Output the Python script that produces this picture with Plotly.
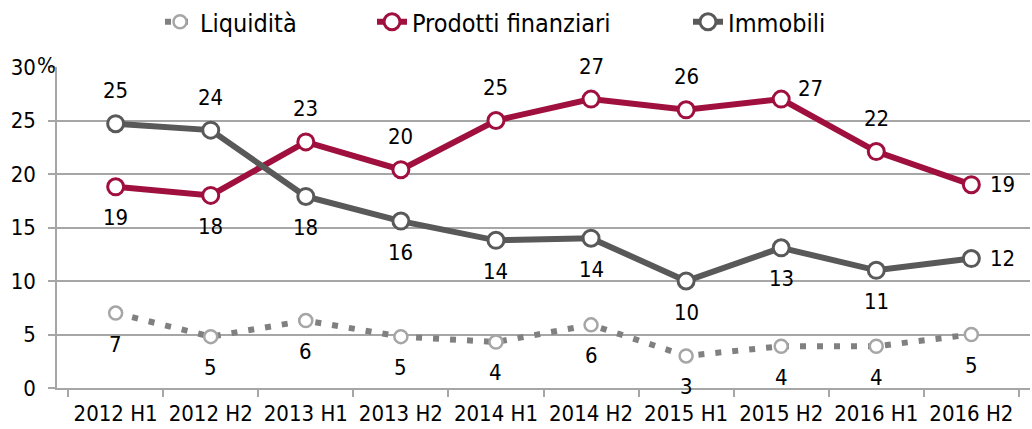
import plotly.graph_objects as go

categories = ["2012 H1", "2012 H2", "2013 H1", "2013 H2", "2014 H1",
              "2014 H2", "2015 H1", "2015 H2", "2016 H1", "2016 H2"]
liquidita = [7.0, 4.8, 6.3, 4.8, 4.3, 5.9, 3.0, 3.9, 3.9, 5.0]
prodotti = [18.8, 18.0, 23.0, 20.4, 25.0, 27.0, 26.0, 27.0, 22.1, 19.0]
immobili = [24.7, 24.1, 17.9, 15.6, 13.8, 14.0, 10.0, 13.1, 11.0, 12.1]
liquidita_labels = ["7", "5", "6", "5", "4", "6", "3", "4", "4", "5"]
prodotti_labels = ["19", "18", "23", "20", "25", "27", "26", "27", "22", "19"]
immobili_labels = ["25", "24", "18", "16", "14", "14", "10", "13", "11", "12"]
y_ticks = [0, 5, 10, 15, 20, 25, 30]

# label placement (style only)
liq_pos = ["b"] * 10
prod_pos = ["b", "b", "t", "t", "t", "t", "t", "tr", "t", "r"]
imm_pos = ["t", "t", "b", "b", "b", "b", "b", "b", "b", "r"]

FONT = "DejaVu Sans Condensed, Open Sans, sans-serif"
BURG = "#A0103F"
DGREY = "#595959"
LGREY = "#A6A6A6"
DOT = "#808080"
FS = 22

fig = go.Figure()
fig.add_trace(go.Scatter(
    x=categories, y=liquidita, name="Liquidità", mode="lines+markers",
    line=dict(color=DOT, width=6, dash="6px,11px"),
    marker=dict(size=13, color="white", line=dict(color=LGREY, width=2.5)),
    legend="legend",
))
fig.add_trace(go.Scatter(
    x=categories, y=prodotti, name="Prodotti finanziari", mode="lines+markers",
    line=dict(color=BURG, width=6),
    marker=dict(size=16, color="white", line=dict(color=BURG, width=3)),
    legend="legend2",
))
fig.add_trace(go.Scatter(
    x=categories, y=immobili, name="Immobili", mode="lines+markers",
    line=dict(color=DGREY, width=6),
    marker=dict(size=16, color="white", line=dict(color=DGREY, width=3)),
    legend="legend3",
))

def add_labels(values, labels, positions):
    for c, v, t, p in zip(categories, values, labels, positions):
        xs, ys = 0, 0
        if p == "t":
            ys = 33
        elif p == "b":
            ys = -31
        elif p == "r":
            xs = 31
        elif p == "tr":
            xs = 29
            ys = 11
        fig.add_annotation(x=c, y=v, text=t, showarrow=False,
                           xshift=xs, yshift=ys,
                           font=dict(family=FONT, size=FS, color="#000000"))

add_labels(liquidita, liquidita_labels, liq_pos)
add_labels(prodotti, prodotti_labels, prod_pos)
add_labels(immobili, immobili_labels, imm_pos)

fig.add_annotation(x=0, xref="paper", y=30, yref="y", text="%", showarrow=False,
                   xanchor="right", xshift=1, yshift=2,
                   font=dict(family=FONT, size=FS, color="#000000"))

def leg(xpx):
    return dict(orientation="h", xref="container", yref="container",
                x=xpx / 1032, xanchor="left", y=1 - 22 / 429, yanchor="middle",
                font=dict(family=FONT, size=25, color="#000000"),
                bgcolor="rgba(0,0,0,0)", borderwidth=0)

fig.update_layout(
    width=1032, height=429,
    margin=dict(l=57, r=2, t=67, b=41),
    paper_bgcolor="white", plot_bgcolor="white",
    font=dict(family=FONT, size=FS, color="#000000"),
    showlegend=True,
    legend=leg(160),
    legend2=leg(372),
    legend3=leg(688),
    xaxis=dict(type="category", tickson="boundaries", ticks="outside", ticklen=7,
               tickcolor=LGREY, tickwidth=1.5, showgrid=False,
               showline=True, linecolor=LGREY, linewidth=1.5, tickangle=0,
               automargin=False, ticklabelstandoff=5,
               tickfont=dict(family=FONT, size=FS), fixedrange=True),
    yaxis=dict(range=[0, 30], tickvals=y_ticks,
               ticktext=[str(v) for v in y_ticks], ticks="outside", ticklen=7,
               tickcolor=LGREY, tickwidth=1.5, showgrid=True, gridcolor=LGREY,
               gridwidth=1.5, showline=True, linecolor=LGREY, linewidth=1.5,
               zeroline=False, ticklabelstandoff=8, automargin=False,
               tickfont=dict(family=FONT, size=FS)),
)

fig.write_html("out.html")
